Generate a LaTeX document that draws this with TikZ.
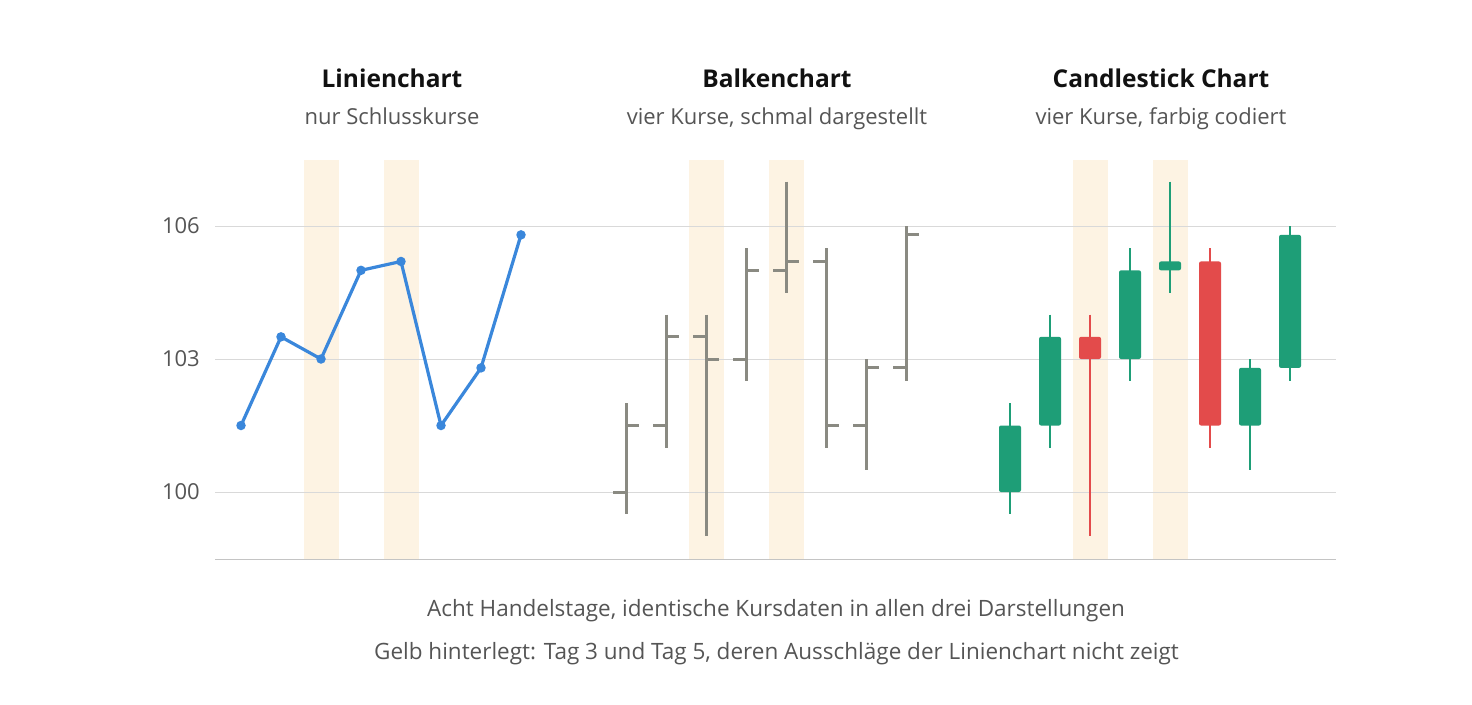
\documentclass[tikz,border=0pt]{standalone}
\usepackage{fontspec}
\setmainfont{Open Sans}
\definecolor{hl}{HTML}{FDF3E3}
\definecolor{grid}{HTML}{D9D9D9}
\definecolor{axis}{HTML}{C4C4C4}
\definecolor{lineblue}{HTML}{3A87DB}
\definecolor{barg}{HTML}{8A8A82}
\definecolor{cg}{HTML}{1E9E77}
\definecolor{cr}{HTML}{E34B4B}
\definecolor{ttl}{HTML}{111111}
\definecolor{sub}{HTML}{555555}
\begin{document}
\begin{tikzpicture}[x=1pt,y=-1pt,
  declare function={yy(\v)=492-(\v-100)*44.3333;},
  title/.style={font=\fontsize{24.5}{28}\selectfont\bfseries, text=ttl, anchor=base, inner sep=0},
  subtitle/.style={font=\fontsize{22}{26}\selectfont, text=sub, anchor=base, inner sep=0},
  ylab/.style={font=\fontsize{22}{26}\selectfont, text=sub, anchor=base east, inner sep=0},
  note/.style={font=\fontsize{22.5}{26}\selectfont, text=sub, anchor=base, inner sep=0},
  gridline/.style={grid, line width=1pt},
  baseline/.style={axis, line width=1.6pt},
  band/.style={fill=hl},
  closeline/.style={lineblue, line width=3.2pt, line join=round},
  dot/.style={circle, fill=lineblue, inner sep=0, minimum size=9.5pt},
  ohlc/.style={barg, line width=3pt, line cap=butt},
  wick/.style={line width=2.5pt},
  body/.style={rounded corners=2pt}
]
\useasboundingbox (0,0) rectangle (1472,704);
\fill[white] (0,0) rectangle (1472,704);

% highlight bands (days 3 and 5)
\foreach \p/\xo in {L/241,B/626,C/1010}{
  \foreach \d in {3,5}{
    \fill[band] ({\xo+40*(\d-1)-17.5},160) rectangle ({\xo+40*(\d-1)+17.5},559);
  }
}

% grid
\coordinate (g106l) at (215,{yy(106)}); \coordinate (g106r) at (1336,{yy(106)});
\coordinate (g103l) at (215,{yy(103)}); \coordinate (g103r) at (1336,{yy(103)});
\coordinate (g100l) at (215,{yy(100)}); \coordinate (g100r) at (1336,{yy(100)});
\coordinate (basel) at (215,559.5); \coordinate (baser) at (1336,559.5);
\draw[gridline] (g106l) -- (g106r);
\draw[gridline] (g103l) -- (g103r);
\draw[gridline] (g100l) -- (g100r);
\draw[baseline] (basel) -- (baser);

\node[ylab] (l106) at (200,233) {106};
\node[ylab] (l103) at (200,366) {103};
\node[ylab] (l100) at (200,499) {100};

% line chart
\foreach \d/\c in {1/101.5,2/103.5,3/103,4/105,5/105.2,6/101.5,7/102.8,8/105.8}{
  \coordinate (p\d) at ({241+40*(\d-1)},{yy(\c)});
}
\draw[closeline] (p1) -- (p2) -- (p3) -- (p4) -- (p5) -- (p6) -- (p7) -- (p8);
\foreach \d in {1,...,8}{ \node[dot] (m\d) at (p\d) {}; }

% OHLC data: day/open/high/low/close/colour
\foreach \d/\o/\h/\l/\c/\col in {1/100/102/99.5/101.5/cg, 2/101.5/104/101/103.5/cg, 3/103.5/104/99/103/cr, 4/103/105.5/102.5/105/cg, 5/105/107/104.5/105.2/cg, 6/105.2/105.5/101/101.5/cr, 7/101.5/103/100.5/102.8/cg, 8/102.8/106/102.5/105.8/cg}{
  % bar chart
  \coordinate (bh\d) at ({626+40*(\d-1)},{yy(\h)});
  \coordinate (bl\d) at ({626+40*(\d-1)},{yy(\l)});
  \coordinate (bo\d) at ({626+40*(\d-1)},{yy(\o)});
  \coordinate (bol\d) at ({626+40*(\d-1)-13},{yy(\o)});
  \coordinate (bc\d) at ({626+40*(\d-1)},{yy(\c)});
  \coordinate (bcr\d) at ({626+40*(\d-1)+13},{yy(\c)});
  \draw[ohlc] (bh\d) -- (bl\d);
  \draw[ohlc] (bol\d) -- (bo\d);
  \draw[ohlc] (bc\d) -- (bcr\d);
  % candlestick
  \coordinate (ch\d) at ({1010+40*(\d-1)},{yy(\h)});
  \coordinate (cl\d) at ({1010+40*(\d-1)},{yy(\l)});
  \coordinate (co\d) at ({1010+40*(\d-1)-11},{yy(\o)});
  \coordinate (cc\d) at ({1010+40*(\d-1)+11},{yy(\c)});
  \draw[wick, \col] (ch\d) -- (cl\d);
  \fill[body, \col] (co\d) rectangle (cc\d);
}

% titles
\node[title] (t1) at (392,87) {Linienchart};
\node[subtitle] (s1) at (392,124) {nur Schlusskurse};
\node[title] (t2) at (777,87) {Balkenchart};
\node[subtitle] (s2) at (777,124) {vier Kurse, schmal dargestellt};
\node[title] (t3) at (1161,87) {Candlestick Chart};
\node[subtitle] (s3) at (1161,124) {vier Kurse, farbig codiert};

% notes
\node[note] (n1) at (776,616) {Acht Handelstage, identische Kursdaten in allen drei Darstellungen};
\node[note] (n2) at (776.5,659) {Gelb hinterlegt: Tag 3 und Tag 5, deren Ausschläge der Linienchart nicht zeigt};
\end{tikzpicture}
\end{document}
